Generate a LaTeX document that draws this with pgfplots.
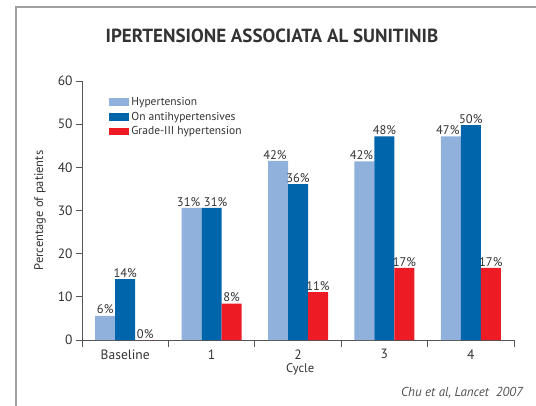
\documentclass[border=0pt]{standalone}
\usepackage{fontspec}
\setmainfont{PT Sans}
\usepackage{pgfplots}
\pgfplotsset{compat=1.18}
\definecolor{lightb}{HTML}{8FB1DB}
\definecolor{darkb}{HTML}{0065AA}
\definecolor{redb}{HTML}{ED1C24}
\definecolor{txt}{HTML}{333333}
\definecolor{axgray}{HTML}{555555}
\begin{document}
\begin{tikzpicture}[x=1pt,y=1pt]
\path[use as bounding box] (-82,-65) rectangle (454,340);
\draw[gray!75, line width=1.5pt] (-66,-66) -- (-66,333) -- (455,333);
\node[font=\bfseries\fontsize{19}{19}\selectfont, text=txt] at (190,304) {IPERTENSIONE ASSOCIATA AL SUNITINIB};
\begin{axis}[
  at={(0,0)}, anchor=south west,
  scale only axis, width=432pt, height=259pt,
  xmin=-0.5, xmax=4.5, ymin=0, ymax=60,
  axis lines*=left, axis line style={-, axgray, line width=0.9pt},
  ybar, bar width=20pt,
  xtick={0,1,2,3,4},
  xticklabels={Baseline,1,2,3,4},
  minor xtick={-0.5,0.5,1.5,2.5,3.5,4.5},
  major x tick style={draw=none},
  minor x tick style={axgray, line width=0.9pt},
  minor tick length=7pt,
  ytick={0,10,...,60},
  y tick style={axgray, line width=0.9pt},
  major tick length=6pt,
  tick align=outside,
  tick label style={font=\fontsize{13.5}{13.5}\selectfont, text=txt},
  /pgf/number format/assume math mode=true,
  ylabel={Percentage of patients},
  ylabel style={at={(axis description cs:-0.097,0.5)}, anchor=center, font=\fontsize{12.5}{12.5}\selectfont, text=txt},
  xlabel={Cycle},
  xlabel style={at={(axis description cs:0.505,-0.112)}, anchor=center, font=\fontsize{12.5}{12.5}\selectfont, text=txt},
  nodes near coords,
  point meta=explicit symbolic,
  every node near coord/.append style={font=\fontsize{12.5}{12.5}\selectfont, text=txt, inner sep=1.5pt},
  legend style={draw=none, fill=none, at={(0.063,0.945)}, anchor=north west,
     font=\fontsize{11.5}{11.5}\selectfont, text=txt, row sep=1pt, inner sep=0pt},
  legend cell align=left,
  legend image code/.code={\fill[#1] (0pt,-3.8pt) rectangle (20pt,3.8pt);},
]
\addplot[fill=lightb, draw=none, bar shift=-20pt,
  every node near coord/.append style={xshift=-3pt}] coordinates {
  (0,5.6) [\hspace{6pt}6\%] (1,30.6) [31\%] (2,41.5) [42\%] (3,41.4) [42\%] (4,47.2) [47\%]};
\addplot[fill=darkb, draw=none, bar shift=0pt] coordinates {
  (0,14.1) [14\%] (1,30.6) [\hspace{8pt}31\%] (2,36.1) [36\%] (3,47.2) [48\%] (4,49.8) [50\%]};
\addplot[fill=redb, draw=none, bar shift=20pt] coordinates {
  (0,0) [0\%] (1,8.4) [8\%] (2,11.1) [11\%] (3,16.7) [17\%] (4,16.7) [17\%]};
\legend{Hypertension, On antihypertensives, Grade-III hypertension}
\end{axis}
\node[font=\itshape\fontsize{13}{13}\selectfont, text=txt!85] at (380,-53) {Chu et al, Lancet\ \ 2007};
\end{tikzpicture}
\end{document}
